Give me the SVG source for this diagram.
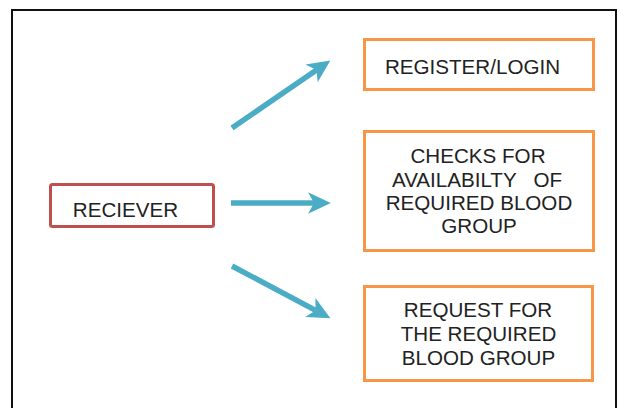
<svg xmlns="http://www.w3.org/2000/svg" width="620" height="408" viewBox="0 0 620 408">
  <style>
    .frame { fill: #ffffff; stroke: #111111; stroke-width: 2; }
    .src { fill: #ffffff; stroke: #c0504d; stroke-width: 3; }
    .dst { fill: #ffffff; stroke: #f79646; stroke-width: 3; }
    .label { font-family: "Liberation Sans", Arial, sans-serif; font-size: 20.6px; fill: #222222; text-anchor: middle; white-space: pre; }
    .flow { stroke: #4bacc6; stroke-width: 5.5; fill: none; marker-end: url(#head); }
  </style>
  <defs>
    <marker id="head" markerUnits="userSpaceOnUse" markerWidth="24" markerHeight="24" viewBox="0 -10 20 20" refX="5" refY="0" orient="auto" overflow="visible">
      <path d="M0,-9 L19,0 L0,9 L5,0 Z" fill="#4bacc6"/>
    </marker>
  </defs>

  <rect width="620" height="408" fill="#ffffff"/>
  <rect class="frame" x="12" y="10" width="604" height="410"/>

  <g id="receiver">
    <rect class="src" x="50.5" y="184.5" width="163" height="42" rx="2"/>
    <text class="label" x="125.5" y="216.5" font-size="19.5">RECIEVER</text>
  </g>

  <g id="register-login">
    <rect class="dst" x="364.5" y="39.5" width="229" height="50"/>
    <text class="label" x="472.5" y="74">REGISTER/LOGIN</text>
  </g>

  <g id="check-availability">
    <rect class="dst" x="364.5" y="131.5" width="229" height="119"/>
    <text class="label" x="478" y="162.5">CHECKS FOR</text>
    <text class="label" x="477" y="186.5">AVAILABILTY   OF</text>
    <text class="label" x="479" y="210">REQUIRED BLOOD</text>
    <text class="label" x="479" y="233">GROUP</text>
  </g>

  <g id="request-blood">
    <rect class="dst" x="364.5" y="286.5" width="228" height="94"/>
    <text class="label" x="478" y="317">REQUEST FOR</text>
    <text class="label" x="478.5" y="341">THE REQUIRED</text>
    <text class="label" x="478.5" y="364.5">BLOOD GROUP</text>
  </g>

  <g id="connectors">
    <line class="flow" x1="232" y1="128" x2="316.5" y2="69.9"/>
    <line class="flow" x1="231" y1="203" x2="314" y2="203"/>
    <line class="flow" x1="232" y1="266" x2="315.6" y2="310.4"/>
  </g>
</svg>
